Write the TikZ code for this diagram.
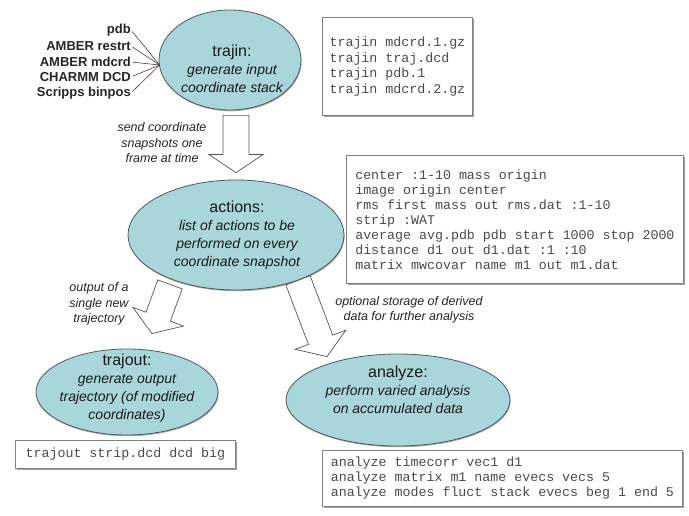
\documentclass[tikz,border=0pt]{standalone}
\usepackage{fontspec}
\setmainfont{Liberation Sans}
\setmonofont{Liberation Mono}
\usetikzlibrary{shapes.geometric,calc,shadows}

\definecolor{ellfill}{HTML}{A9D6DB}
\definecolor{elledge}{HTML}{4F5A5C}
\definecolor{boxedge}{HTML}{808080}
\definecolor{codecol}{HTML}{4A4A4A}
\definecolor{arrowedge}{HTML}{555555}
\definecolor{srcline}{HTML}{4A3E38}

\tikzset{
  stage/.style={ellipse, draw=elledge, line width=0.8pt, fill=ellfill, inner sep=0pt,
    drop shadow={shadow xshift=0.6pt, shadow yshift=-1.2pt, fill=gray!70, opacity=1}},
  stagetext/.style={align=center, inner sep=0pt, text=black!90, font=\fontsize{14}{18}\selectfont\itshape},
  codebox/.style={draw=boxedge, line width=0.8pt, fill=white, align=left, inner sep=0pt,
    text=codecol, font=\fontsize{13.3}{15.6}\selectfont\ttfamily,
    drop shadow={shadow xshift=1.2pt, shadow yshift=-1.5pt, fill=gray!75, opacity=1}},
  srclabel/.style={font=\fontsize{13}{16}\selectfont\bfseries, text=black!85, inner sep=0pt},
  srcconn/.style={draw=srcline, line width=0.6pt},
  note/.style={align=center, inner sep=0pt, text=black!85, font=\fontsize{12.5}{15.5}\selectfont\itshape},
  hollow/.style={draw=arrowedge, fill=white, line width=0.7pt, line join=miter},
}

\newcommand\hollowarrow[2]{%
  \coordinate (hb) at ($(#2)!18pt!(#1)$);
  \draw[hollow] ($(#1)!13pt!90:(#2)$) -- ($(hb)!13pt!90:(#2)$) -- ($(hb)!27pt!90:(#2)$)
    -- (#2) -- ($(hb)!27pt!-90:(#2)$) -- ($(hb)!13pt!-90:(#2)$) -- ($(#1)!13pt!-90:(#2)$) -- cycle;
}

\begin{document}
\begin{tikzpicture}[x=1pt,y=-1pt]
\useasboundingbox (0,0) rectangle (689,516);
\fill[white] (0,0) rectangle (689,516);

% --- ellipses
\node[stage, minimum width=142pt, minimum height=100pt] (trajin) at (230,60) {};
\node[stagetext] (trajinT) at (232,69) {{\upshape\fontsize{16}{20}\selectfont trajin:}\\generate input\\coordinate stack};

\node[stage, minimum width=216pt, minimum height=110pt] (actions) at (236,235) {};
\node[stagetext] (actionsT) at (237,235) {{\upshape\fontsize{16}{20}\selectfont actions:}\\list of actions to be\\performed on every\\coordinate snapshot};

\node[stage, minimum width=182pt, minimum height=86pt] (trajout) at (127,392) {};
\node[stagetext] (trajoutT) at (127,388) {{\upshape\fontsize{16}{18}\selectfont trajout:}\\generate output\\trajectory (of modified\\coordinates)};

\node[stage, minimum width=224pt, minimum height=92pt] (analyze) at (398,400) {};
\node[stagetext] (analyzeT) at (398,390) {{\upshape\fontsize{16}{19}\selectfont analyze:}\\perform varied analysis\\on accumulated data};

% --- code boxes
\node[codebox, anchor=north west, minimum width=150pt, minimum height=98pt] (box1) at (322,17)
  {trajin mdcrd.1.gz\\trajin traj.dcd\\trajin pdb.1\\trajin mdcrd.2.gz};

\node[codebox, anchor=north west, minimum width=337pt, minimum height=128pt,
  font=\fontsize{13.3}{15}\selectfont\ttfamily] (box2) at (346,155)
  {center :1-10 mass origin\\image origin center\\rms first mass out rms.dat :1-10\\strip :WAT\\average avg.pdb pdb start 1000 stop 2000\\distance d1 out d1.dat :1 :10\\matrix mwcovar name m1 out m1.dat};

\node[codebox, anchor=north west, minimum width=220pt, minimum height=28pt] (box3) at (15,440)
  {trajout strip.dcd dcd big};

\node[codebox, anchor=north west, minimum width=360pt, minimum height=56pt,
  font=\fontsize{13.3}{15}\selectfont\ttfamily] (box4) at (322,450)
  {analyze timecorr vec1 d1\\analyze matrix m1 name evecs vecs 5\\analyze modes fluct stack evecs beg 1 end 5};

% --- input formats
\coordinate (hub) at ($(trajin.west)+(1,5)$);
\node[srclabel, anchor=east] (pdb) at (131,30) {pdb};
\node[srclabel, anchor=east] (restrt) at (131,46) {AMBER restrt};
\node[srclabel, anchor=east] (mdcrd) at (131,62) {AMBER mdcrd};
\node[srclabel, anchor=east] (dcd) at (131,77) {CHARMM DCD};
\node[srclabel, anchor=east] (binpos) at (131,93) {Scripps binpos};
\foreach \s in {pdb,restrt,mdcrd,dcd,binpos}
  \draw[srcconn, shorten <=2pt] (\s.east) -- (hub);

% --- hollow arrows
\coordinate (a1s) at ($(trajin.south)+(6,5)$);
\coordinate (a1t) at ($(actions.north)+(0,-7)$);
\hollowarrow{a1s}{a1t}
\coordinate (a2s) at ($(actions.south)+(-66,-6)$);
\coordinate (a2t) at ($(trajout.north)+(25,-15)$);
\hollowarrow{a2s}{a2t}
\coordinate (a3s) at ($(actions.south)+(62,-10)$);
\coordinate (a3t) at ($(analyze.north)+(-71,3)$);
\hollowarrow{a3s}{a3t}

% --- notes
\node[note] (n1) at (162,143) {send coordinate\\snapshots one\\frame at time};
\node[note] (n2) at (99,304) {output of a\\single new\\trajectory};
\node[note] (n3) at (409,310) {optional storage of derived\\data for further analysis};
\end{tikzpicture}
\end{document}
